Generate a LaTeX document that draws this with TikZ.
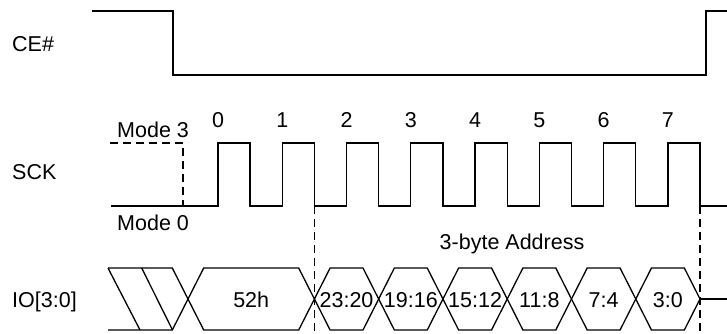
\documentclass[tikz,border=0pt]{standalone}
\usepackage{fontspec}
\setmainfont{Liberation Sans}
\begin{document}
\begin{tikzpicture}[x=1pt,y=-1pt,
  wave/.style={line width=1.3pt, line join=miter},
  dashwave/.style={line width=1.3pt, dash pattern=on 8pt off 5pt},
  lbl/.style={inner sep=0pt, font=\fontsize{21.5}{24}\selectfont},
]
\useasboundingbox (0,0) rectangle (727,333);
\def\p{64.27}
\def\w{15.7}
% labels
\node[lbl, anchor=base west] (ce) at (12,51) {CE\#};
\node[lbl, anchor=base west] (sck) at (12,179) {SCK};
\node[lbl, anchor=base west] (io) at (12,307.5) {IO[3:0]};
\node[lbl, anchor=base west] (m3) at (117,137) {Mode 3};
\node[lbl, anchor=base west] (m0) at (117,230.5) {Mode 0};
\node[lbl, anchor=base] (addr) at (512,249.5) {3-byte Address};
% CE#
\draw[wave] (92,11) -- (173,11) -- (173,75) -- (706,75) -- (706,11) -- (727,11);
% SCK
\draw[dashwave] (110,143) -- (183,143) -- (183,206);
\draw[wave] (111,206)
  foreach \k in {0,...,7} { -- ({218+\k*\p},206) -- ({218+\k*\p},143) -- ({218+\k*\p+\p/2},143) -- ({218+\k*\p+\p/2},206) }
  -- (727,206);
\foreach \k in {0,...,7} {
  \node[lbl, anchor=base] (c\k) at ({218+\k*\p},127.5) {\k};
}
% dashed markers
\draw[dashwave] ({218+1.5*\p},206) -- ({218+1.5*\p},333);
\draw[dashwave] ({218+7.5*\p},206) -- ({218+7.5*\p},333);
% IO bus
\draw[wave] (108,268) -- (140,330);
\draw[wave] (141.7,268) -- (172.5,330);
\draw[wave] (108,268) -- ({188-\w},268) -- (188,299);
\draw[wave] (108,330) -- ({188-\w},330) -- (188,299);
\draw[wave] (188,299) -- ({188+\w},268) -- ({218+1.5*\p-\w},268) -- ({218+1.5*\p},299)
  -- ({218+1.5*\p-\w},330) -- ({188+\w},330) -- cycle;
\node[lbl, anchor=base] (d52) at ({(188+218+1.5*\p)/2},307.5) {52h};
\foreach \k/\t in {0/23:20,1/19:16,2/15:12,3/11:8,4/7:4,5/3:0} {
  \pgfmathsetmacro{\a}{218+(1.5+\k)*\p}
  \pgfmathsetmacro{\b}{218+(2.5+\k)*\p}
  \draw[wave] (\a,299) -- ({\a+\w},268) -- ({\b-\w},268) -- (\b,299)
    -- ({\b-\w},330) -- ({\a+\w},330) -- cycle;
  \node[lbl, anchor=base] (a\k) at ({(\a+\b)/2},307.5) {\t};
}
\draw[wave] ({218+7.5*\p},299) -- (727,299);
\end{tikzpicture}
\end{document}
